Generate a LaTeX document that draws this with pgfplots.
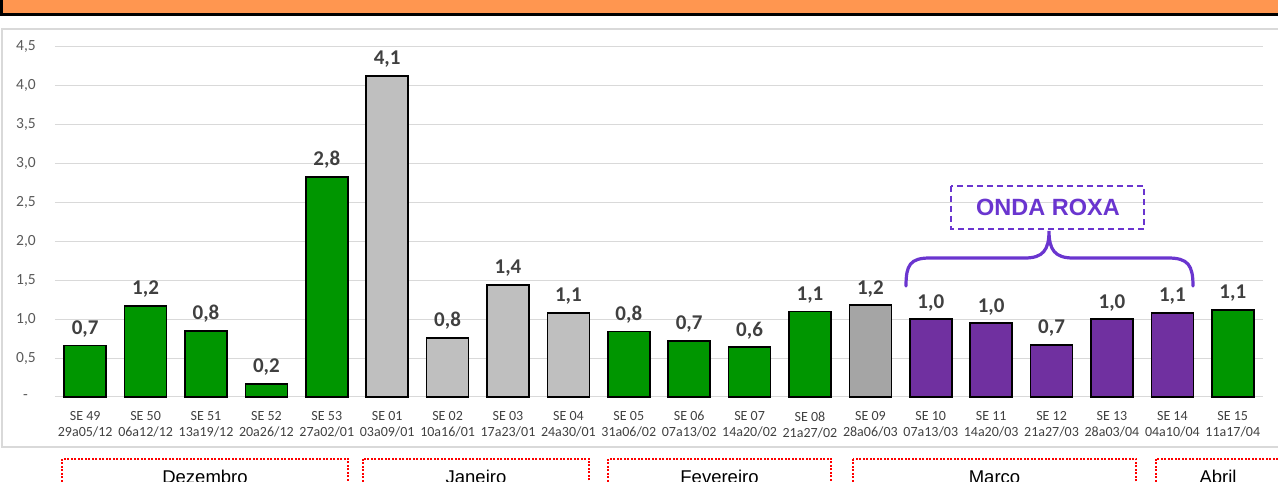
\documentclass[border=0pt]{standalone}
\usepackage{pgfplots}
\pgfplotsset{compat=1.18}
\usepackage{pgfplotstable}
\usepackage{fontspec}
\setmainfont{Carlito}
\newfontfamily\arialf{Liberation Sans}
\definecolor{bargreen}{RGB}{0,150,0}
\definecolor{barlgray}{RGB}{191,191,191}
\definecolor{bardgray}{RGB}{165,165,165}
\definecolor{barpurple}{RGB}{112,48,160}
\definecolor{ondacol}{RGB}{106,53,207}
\definecolor{gridgray}{RGB}{217,217,217}
\definecolor{lblgray}{RGB}{64,64,64}
\definecolor{ylblgray}{RGB}{89,89,89}
\definecolor{banner}{RGB}{255,150,80}

\pgfplotstableread{
x y lab
0 0.66 0,7
1 1.17 1,2
2 0.85 0,8
3 0.17 0,2
4 2.83 2,8
9 0.84 0,8
10 0.72 0,7
11 0.64 0,6
12 1.10 1,1
19 1.12 1,1
}\greendata
\pgfplotstableread{
x y lab
5 4.13 4,1
6 0.76 0,8
7 1.44 1,4
8 1.08 1,1
}\lgraydata
\pgfplotstableread{
x y lab
13 1.18 1,2
}\dgraydata
\pgfplotstableread{
x y lab
14 1.00 1,0
15 0.95 1,0
16 0.67 0,7
17 1.00 1,0
18 1.08 1,1
}\purpledata

\begin{document}
\begin{tikzpicture}[x=1pt,y=1pt]
\begin{scope}
\clip (0,0) rectangle (1278,482);
% banner
\draw[black, line width=3pt, fill=banner] (1.5,467) rectangle (1300,520);
% chart frame
\draw[gridgray, line width=1.5pt] (2,453) rectangle (1300,35);
\begin{axis}[
  at={(55pt,85pt)}, anchor=south west,
  scale only axis, width=1208pt, height=350pt,
  xmin=-0.5, xmax=19.5, ymin=0, ymax=4.5,
  axis line style={draw=none},
  tick style={draw=none},
  ymajorgrids,
  grid style={draw=gridgray, line width=1pt},
  ytick={0,0.5,1,1.5,2,2.5,3,3.5,4,4.5},
  yticklabels={{-\hspace*{8pt}},{0,5},{1,0},{1,5},{2,0},{2,5},{3,0},{3,5},{4,0},{4,5}},
  yticklabel style={inner sep=0pt, xshift=-19pt, font=\fontsize{15.5}{17}\selectfont, text=ylblgray},
  xtick={0,...,19},
  xticklabels={{SE 49\\29a05/12},{SE 50\\06a12/12},{SE 51\\13a19/12},{SE 52\\20a26/12},{SE 53\\27a02/01},
    {SE 01\\03a09/01},{SE 02\\10a16/01},{SE 03\\17a23/01},{SE 04\\24a30/01},{SE 05\\31a06/02},
    {SE 06\\07a13/02},{SE 07\\14a20/02},{SE 08\\21a27/02},{SE 09\\28a06/03},{SE 10\\07a13/03},
    {SE 11\\14a20/03},{SE 12\\21a27/03},{SE 13\\28a03/04},{SE 14\\04a10/04},{SE 15\\11a17/04}},
  xticklabel style={align=center, inner sep=0pt, yshift=-10pt, font=\fontsize{14}{16}\selectfont, text=lblgray},
  ybar, bar width=42pt,
  clip=false,
  point meta=explicit symbolic,
  nodes near coords,
  every node near coord/.append style={anchor=base, yshift=11pt, font=\fontsize{21}{21}\selectfont\bfseries, text=lblgray},
]
\addplot[bar shift=0pt, fill=bargreen, draw=black, line width=1.6pt] table[x=x,y=y,meta=lab] {\greendata};
\addplot[bar shift=0pt, fill=barlgray, draw=black, line width=1.6pt] table[x=x,y=y,meta=lab] {\lgraydata};
\addplot[bar shift=0pt, fill=bardgray, draw=black, line width=1.6pt] table[x=x,y=y,meta=lab] {\dgraydata};
\addplot[bar shift=0pt, fill=barpurple, draw=black, line width=1.6pt] table[x=x,y=y,meta=lab] {\purpledata};
\end{axis}
% Onda roxa annotation
\draw[ondacol, line width=1.8pt, dash pattern=on 6pt off 4pt] (951,296) rectangle (1144,253);
\node[text=ondacol, font=\arialf\bfseries\fontsize{23.5}{24}\selectfont] at (1048,274.5) {ONDA ROXA};
\draw[ondacol, line width=3.2pt, line cap=round]
  (906,196) .. controls (906,217) and (910,224) .. (930,224) -- (1025,224)
  .. controls (1043,224) and (1049,232) .. (1049,251)
  .. controls (1049,232) and (1055,224) .. (1073,224) -- (1168,224)
  .. controls (1188,224) and (1193,217) .. (1193,196);
% month boxes
\begin{scope}[red, line width=2pt, dash pattern=on 2pt off 1.5pt]
\draw (62,23) rectangle (348,-20);
\draw (363,23) rectangle (589,-20);
\draw (608,23) rectangle (831,-20);
\draw (853,23) rectangle (1136,-20);
\draw (1156,23) rectangle (1300,-20);
\end{scope}
\begin{scope}[font=\arialf\fontsize{18.5}{20}\selectfont]
\node[anchor=base] at (205,-1.5) {Dezembro};
\node[anchor=base] at (476,-1.5) {Janeiro};
\node[anchor=base] at (719.5,-1.5) {Fevereiro};
\node[anchor=base] at (994.5,-1.5) {Março};
\node[anchor=base] at (1218,-1.5) {Abril};
\end{scope}
\end{scope}
\pgfresetboundingbox
\useasboundingbox (0,0) rectangle (1278,482);
\end{tikzpicture}
\end{document}
